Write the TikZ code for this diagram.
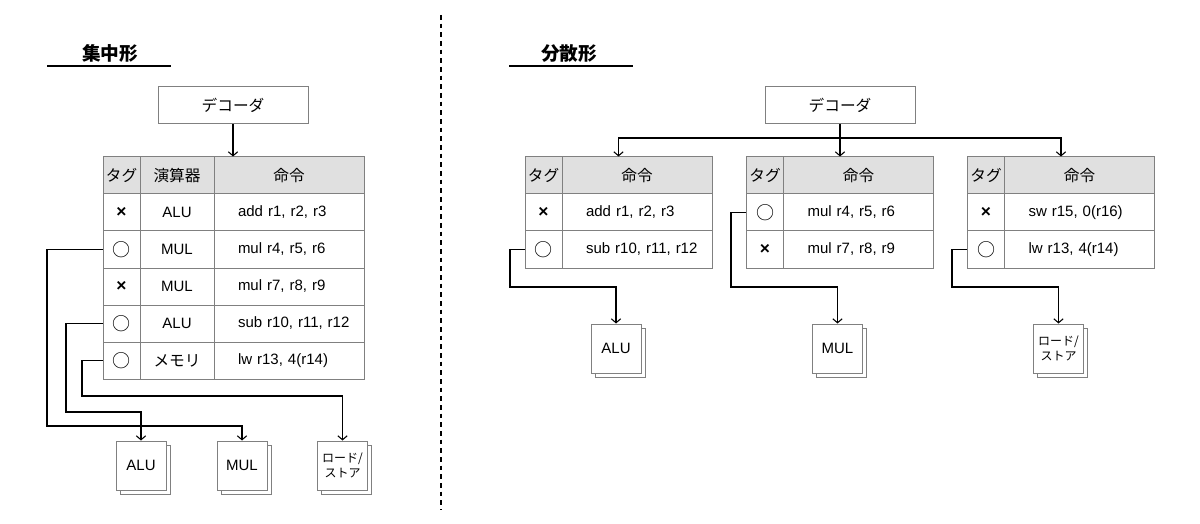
\documentclass[tikz,border=0pt]{standalone}
\usepackage{fontspec}
\setmainfont{Liberation Sans}
\newfontfamily\jp{Noto Sans CJK JP}
\usetikzlibrary{positioning,arrows.meta,shadows,calc}

\newcommand{\maru}{{\jp\fontsize{13.5}{13.5}\selectfont ○}}
\newcommand{\batsu}{{\fontsize{13}{13}\selectfont\bfseries ×}}

\begin{document}
\begin{tikzpicture}[x=0.75pt,y=-0.75pt,
  font=\fontsize{11.25}{13.5}\selectfont,
  box/.style={draw=black!50, line width=0.75pt, inner sep=0pt, minimum height=27.75pt},
  jpt/.style={font=\jp\fontsize{11.75}{13.5}\selectfont},
  tagc/.style={box, minimum width=27.75pt},
  opc/.style={box, minimum width=55.5pt},
  insth/.style={box, minimum width=112.5pt},
  inst/.style={box, text width=94.5pt, inner xsep=9pt, align=left,
    execute at begin node={\hspace*{9pt}}},
  head/.style={fill=black!12, jpt},
  unit/.style={draw=black!50, line width=0.75pt, fill=white, minimum width=37.5pt, minimum height=36.75pt, inner sep=1pt, align=center,
    copy shadow={shadow xshift=3pt, shadow yshift=-3pt, draw=black!50, fill=white}},
  conn/.style={line width=0.8pt, -{Straight Barb[length=3pt,width=7pt]}},
  ttl/.style={font=\jp\fontsize{14}{16}\selectfont\bfseries},
]
\useasboundingbox (0,0) rectangle (1200,524);

%%% 見出し
\node[ttl] (ttlL) at (110,53) {集中形};
\draw[line width=1.3pt] (47,66) -- (171,66);
\node[ttl] (ttlR) at (569,53) {分散形};
\draw[line width=1.3pt] (509,66) -- (633,66);

%% 区切り
\draw[line width=1.1pt, dash pattern=on 3.5pt off 3pt] (441,15) -- (441,510);

%%% 集中形
\node[box, minimum width=112.5pt, jpt] (ldec) at (233,105.5) {デコーダ};

% 表
\node[tagc,head] (lh1) at (121.5,175.5) {タグ};
\node[opc,head] (lh2) at (177,175.5) {演算器};
\node[insth,head] (lh3) at (289,175.5) {命令};

\node[tagc] (lt1) at (121.5,212.5) {\batsu};
\node[opc] (lo1) at (177,212.5) {ALU};
\node[inst] (li1) at (289,212.5) {add r1, r2, r3};

\node[tagc] (lt2) at (121.5,249.5) {\maru};
\node[opc] (lo2) at (177,249.5) {MUL};
\node[inst] (li2) at (289,249.5) {mul r4, r5, r6};

\node[tagc] (lt3) at (121.5,286.5) {\batsu};
\node[opc] (lo3) at (177,286.5) {MUL};
\node[inst] (li3) at (289,286.5) {mul r7, r8, r9};

\node[tagc] (lt4) at (121.5,323.5) {\maru};
\node[opc] (lo4) at (177,323.5) {ALU};
\node[inst] (li4) at (289,323.5) {sub r10, r11, r12};

\node[tagc] (lt5) at (121.5,360.5) {\maru};
\node[opc,jpt] (lo5) at (177,360.5) {メモリ};
\node[inst] (li5) at (289,360.5) {lw r13, 4(r14)};

% 演算器
\node[unit] (lalu) at (141,465.5) {ALU};
\node[unit] (lmul) at (242,465.5) {MUL};
\node[unit, font=\jp\fontsize{9}{11.25}\selectfont] (lls) at (342.5,465.5) {ロード/\\ストア};

% 線
\draw[conn] (ldec.south) -- (ldec.south |- lh1.north);
\draw[conn] (lt2.west) -| (47,426) -| (lmul.north);
\draw[conn] (lt4.west) -| (66,412) -| (lalu.north);
\draw[conn] (lt5.west) -| (82,396) -| (lls.north);

%%% 分散形
\node[box, minimum width=112.5pt, jpt] (rdec) at (840,105.5) {デコーダ};

% 表 1
\node[tagc,head] (ah1) at (543.5,175.5) {タグ};
\node[insth,head] (ah2) at (637,175.5) {命令};
\node[tagc] (at1) at (543.5,212.5) {\batsu};
\node[inst] (ai1) at (637,212.5) {add r1, r2, r3};
\node[tagc] (at2) at (543.5,249.5) {\maru};
\node[inst] (ai2) at (637,249.5) {sub r10, r11, r12};

% 表 2
\node[tagc,head] (bh1) at (765,175.5) {タグ};
\node[insth,head] (bh2) at (858.5,175.5) {命令};
\node[tagc] (bt1) at (765,212.5) {\maru};
\node[inst] (bi1) at (858.5,212.5) {mul r4, r5, r6};
\node[tagc] (bt2) at (765,249.5) {\batsu};
\node[inst] (bi2) at (858.5,249.5) {mul r7, r8, r9};

% 表 3
\node[tagc,head] (ch1) at (986,175.5) {タグ};
\node[insth,head] (ch2) at (1079.5,175.5) {命令};
\node[tagc] (ct1) at (986,212.5) {\batsu};
\node[inst] (ci1) at (1079.5,212.5) {sw r15, 0(r16)};
\node[tagc] (ct2) at (986,249.5) {\maru};
\node[inst] (ci2) at (1079.5,249.5) {lw r13, 4(r14)};

% 演算器
\node[unit] (ralu) at (616,348.5) {ALU};
\node[unit] (rmul) at (837.5,348.5) {MUL};
\node[unit, font=\jp\fontsize{9}{11.25}\selectfont] (rls) at (1058.5,348.5) {ロード/\\ストア};

% 線
\coordinate (rsplit) at (840,138);
\draw[line width=0.8pt] (rdec.south) -- (rsplit);
\draw[conn] (rsplit) -| ($(ah1.north west)!0.5!(ah2.north east)$);
\draw[conn] (rsplit) -- (rsplit |- bh1.north);
\draw[conn] (rsplit) -| ($(ch1.north west)!0.5!(ch2.north east)$);
\draw[conn] (at2.west) -| (510,287) -| (ralu.north);
\draw[conn] (bt1.west) -| (731,287) -| (rmul.north);
\draw[conn] (ct2.west) -| (952,287) -| (rls.north);

\end{tikzpicture}
\end{document}
